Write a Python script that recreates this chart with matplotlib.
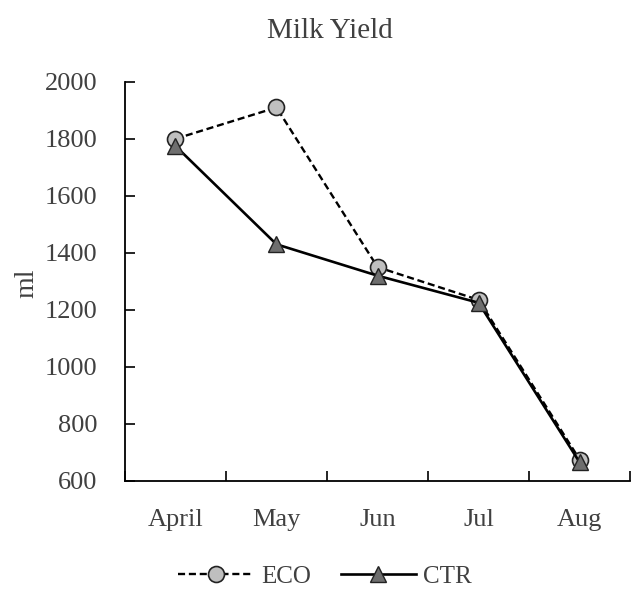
import matplotlib.pyplot as plt
import numpy as np
from matplotlib.ticker import FixedLocator

# %% Data
months = ["April", "May", "Jun", "Jul", "Aug"]
eco_ml = [1800, 1910, 1350, 1235, 675]
ctr_ml = [1775, 1430, 1320, 1225, 665]
y_ticks = [600, 800, 1000, 1200, 1400, 1600, 1800, 2000]

# %% Plot
plt.rcParams['font.family'] = ['Liberation Serif', 'DejaVu Serif']
text_color = '#404040'

fig = plt.figure(figsize=(6.34, 5.93), dpi=100)
ax = fig.add_axes([0.197, 0.189, 0.797, 0.673])

x = np.arange(len(months))
ax.plot(x, eco_ml, linestyle=(0, (3.0, 1.6)), color='black', linewidth=1.7,
        marker='o', markersize=11.5, markerfacecolor='#bfbfbf',
        markeredgecolor='#222222', markeredgewidth=1.2, label='ECO')
ax.plot(x, ctr_ml, linestyle='-', color='black', linewidth=1.9,
        marker='^', markersize=11.5, markerfacecolor='#6e6e6e',
        markeredgecolor='#222222', markeredgewidth=1.0, label='CTR')

# Formatting
ax.set_xlim(-0.5, len(months) - 0.5)
ax.set_ylim(600, 2000)
ax.set_yticks(y_ticks)
ax.set_xticks(x)
ax.set_xticklabels(months)
ax.xaxis.set_minor_locator(FixedLocator(np.arange(-0.5, len(months), 1.0)))
ax.tick_params(axis='x', which='major', length=0, pad=20,
               labelsize=19, labelcolor=text_color)
ax.tick_params(axis='x', which='minor', direction='in', length=7, width=1.2)
ax.tick_params(axis='y', direction='in', length=7, width=1.2, pad=20,
               labelsize=19, labelcolor=text_color)
for side in ['top', 'right']:
    ax.spines[side].set_visible(False)
for side in ['left', 'bottom']:
    ax.spines[side].set_linewidth(1.3)
fig.text(0.042, 0.523, 'ml', rotation=90, ha='center', va='center',
         fontsize=20, color=text_color)
fig.text(0.521, 0.947, 'Milk Yield', ha='center', va='center',
         fontsize=21, color=text_color)
fig.legend(*ax.get_legend_handles_labels(), loc='center',
           bbox_to_anchor=(0.513, 0.028), ncol=2, frameon=False,
           fontsize=18, labelcolor=text_color,
           handlelength=3.0, columnspacing=1.2, handletextpad=0.3)

fig.savefig('out.png', dpi=100)
